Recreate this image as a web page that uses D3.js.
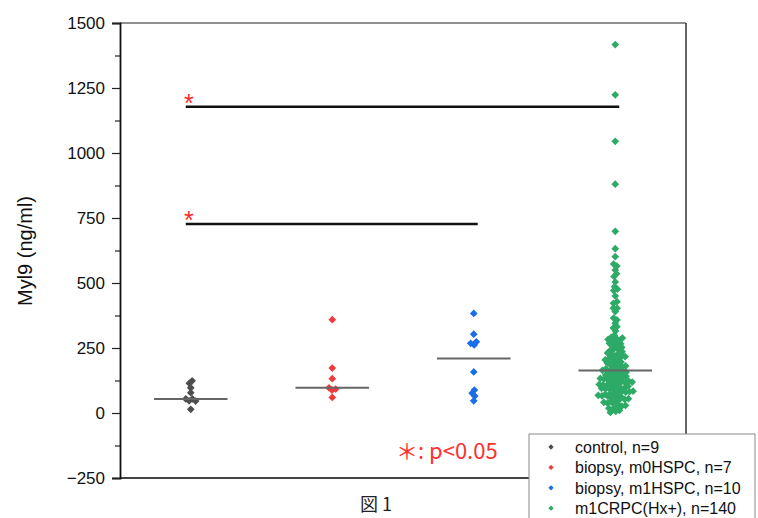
<!DOCTYPE html>
<html lang="ja">
<head>
  <meta charset="UTF-8" />
  <title>Myl9 dot plot</title>
  <script src="https://d3js.org/d3.v7.min.js"></script>
  <style>
    body { margin: 0; background: #fff; font-family: "Liberation Sans", Arial, sans-serif; }
    .tick text { font-size: 17px; fill: #111; }
  </style>
</head>
<body>
  <svg width="758" height="518"></svg>

  <script>
    // groups and values
    const groups = ["control, n=9", "biopsy, m0HSPC, n=7", "biopsy, m1HSPC, n=10", "m1CRPC(Hx+), n=140"];
    const colors = ["#4d4d4d", "#ee3b3b", "#1a6ee6", "#2eaa67"];

    const control = [78, 54, 47, 54, 97, 114, 124, 14, 46];
    const m0hspc = [359, 173, 132, 97, 88, 92, 60];
    const m1hspc = [383, 303, 274, 268, 262, 158, 88, 76, 65, 47];
    const m1crpc = [
      1417, 1224, 1045, 880, 699, 632,
      601, 573, 565, 550, 536, 525, 504, 486, 476, 471,
      450, 428, 422, 403, 403, 390, 365, 358, 345, 327,
      332, 315, 287, 277,
      299, 291, 288, 283, 279, 271, 268, 266, 259, 255,
      252, 246, 243, 241, 236, 231, 229, 226, 222, 219,
      217, 213, 210, 208, 204, 201, 198, 196, 192, 190,
      187, 184, 181, 178, 175, 172, 170, 168, 166, 164,
      162, 160, 157, 155, 153, 150, 148, 146, 144, 141,
      139, 137, 135, 133, 131, 129, 127, 125, 123, 121,
      119, 117, 116, 114, 112, 110, 108, 106, 104, 103,
      101, 99, 97, 95, 93, 91, 90, 88, 86, 84,
      82, 80, 78, 76, 74, 72, 70, 68, 66, 64,
      62, 60, 58, 55, 52, 50, 47, 44, 41, 38,
      35, 32, 29, 26, 22, 18, 14, 10, 6, 2
    ];
    const series = [control, m0hspc, m1hspc, m1crpc];

    const majorTicks = [-250, 0, 250, 500, 750, 1000, 1250, 1500];
    const minorTicks = [-125, 125, 375, 625, 875, 1125, 1375];

    // significance bars: [from group, to group, level]
    const sigBars = [[0, 3, 1178], [0, 2, 727]];

    const svg = d3.select("svg");
    const plotL = 120, plotR = 686, plotT = 23, plotB = 478;

    const x = d3.scaleBand().domain(d3.range(groups.length)).range([plotL, plotR]).padding(0);
    const y = d3.scaleLinear().domain([-250, 1500]).range([plotB, plotT]);
    const cx = i => x(i) + x.bandwidth() / 2;

    const diamond = d3.symbol().type(d3.symbolSquare).size(30);

    // frame
    svg.append("line").attr("x1", plotL).attr("x2", plotR).attr("y1", plotT).attr("y2", plotT)
      .attr("stroke", "#222").attr("stroke-width", 1.2);
    svg.append("line").attr("x1", plotR).attr("x2", plotR).attr("y1", plotT).attr("y2", plotB)
      .attr("stroke", "#333").attr("stroke-width", 1.5);
    svg.append("line").attr("x1", plotL).attr("x2", plotR).attr("y1", plotB).attr("y2", plotB)
      .attr("stroke", "#444").attr("stroke-width", 1.8);

    // y axis with major and minor ticks
    svg.append("g")
      .attr("transform", `translate(${plotL},0)`)
      .call(d3.axisLeft(y).tickValues(minorTicks).tickSize(5).tickFormat(""))
      .call(g => g.select(".domain").remove())
      .call(g => g.selectAll("line").attr("stroke", "#222").attr("stroke-width", 1.2));

    svg.append("g")
      .attr("transform", `translate(${plotL},0)`)
      .call(d3.axisLeft(y).tickValues(majorTicks).tickSize(8).tickPadding(7).tickFormat(d3.format("d")))
      .call(g => g.select(".domain").attr("stroke", "#111").attr("stroke-width", 1.8))
      .call(g => g.selectAll(".tick line").attr("stroke", "#222").attr("stroke-width", 1.2))
      .call(g => g.selectAll(".tick text").attr("font-family", "'Liberation Sans', Arial, sans-serif"));

    svg.append("text")
      .attr("transform", `translate(32,251) rotate(-90)`)
      .attr("text-anchor", "middle")
      .attr("font-size", 20)
      .attr("fill", "#111")
      .text("Myl9 (ng/ml)");

    // beeswarm layout per group (y fixed to value), overlaps allowed as in the figure
    const nodes = [];
    series.forEach((vals, i) => vals.forEach(v => nodes.push({ g: i, v, x: cx(i), fy: y(v) })));
    const sim = d3.forceSimulation(nodes)
      .force("x", d3.forceX(d => cx(d.g)).strength(0.15))
      .force("collide", d3.forceCollide(1.9).strength(0.35))
      .stop();
    for (let k = 0; k < 300; k++) sim.tick();

    svg.append("g")
      .selectAll("path")
      .data(nodes)
      .join("path")
        .attr("d", diamond)
        .attr("transform", d => `translate(${d.x},${d.fy}) rotate(45)`)
        .attr("fill", d => colors[d.g]);

    // median lines
    const halfW = x.bandwidth() * 0.26;
    svg.append("g")
      .selectAll("line")
      .data(series)
      .join("line")
        .attr("x1", (d, i) => cx(i) - halfW)
        .attr("x2", (d, i) => cx(i) + halfW)
        .attr("y1", d => y(d3.median(d)))
        .attr("y2", d => y(d3.median(d)))
        .attr("stroke", "#666")
        .attr("stroke-width", 2);

    // significance bars
    const sig = svg.append("g");
    sig.selectAll("line")
      .data(sigBars)
      .join("line")
        .attr("x1", d => cx(d[0]) - 5)
        .attr("x2", d => cx(d[1]) + 4)
        .attr("y1", d => y(d[2]))
        .attr("y2", d => y(d[2]))
        .attr("stroke", "#111")
        .attr("stroke-width", 2.5);
    sig.selectAll("text")
      .data(sigBars)
      .join("text")
        .attr("x", d => cx(d[0]) - 2)
        .attr("y", d => y(d[2]) + 5)
        .attr("text-anchor", "middle")
        .attr("font-size", 25)
        .attr("fill", "#ff2a2a")
        .text("*");

    svg.append("text")
      .attr("x", 396)
      .attr("y", 459)
      .attr("font-size", 22)
      .attr("fill", "#ff3030")
      .attr("font-family", "'Noto Sans CJK JP', 'Liberation Sans', sans-serif")
      .text("＊: p<0.05");

    svg.append("text")
      .attr("x", 360)
      .attr("y", 511)
      .attr("font-size", 18)
      .attr("fill", "#222")
      .attr("font-family", "'Noto Sans CJK JP', sans-serif")
      .text("図 1");

    // legend
    const legend = svg.append("g").attr("transform", "translate(529,434)");
    legend.append("rect")
      .attr("width", 226).attr("height", 100)
      .attr("fill", "#fff").attr("stroke", "#8a8a8a").attr("stroke-width", 1);
    const row = legend.selectAll("g.row")
      .data(groups)
      .join("g")
        .attr("class", "row")
        .attr("transform", (d, i) => `translate(0,${13 + i * 20.4})`);
    row.append("path")
      .attr("d", d3.symbol().type(d3.symbolSquare).size(14))
      .attr("transform", "translate(22,0) rotate(45)")
      .attr("fill", (d, i) => colors[i]);
    row.append("text")
      .attr("x", 46)
      .attr("dy", "0.36em")
      .attr("font-size", 16)
      .attr("fill", "#111")
      .text(d => d);
  </script>
</body>
</html>
